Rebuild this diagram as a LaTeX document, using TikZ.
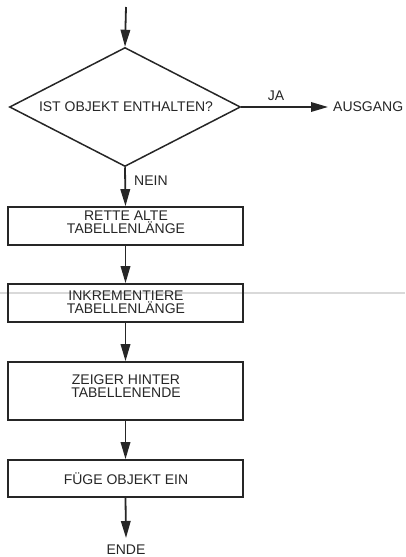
\documentclass[tikz,border=0pt]{standalone}
\usepackage{fontspec}
\setmainfont{Liberation Sans}
\usetikzlibrary{shapes.geometric,arrows.meta}
\begin{document}
\begin{tikzpicture}[x=1pt,y=1pt,
  every node/.style={font=\fontsize{14}{13.5}\selectfont, text=black!85},
  procbox/.style={draw=black!85, line width=1.7pt, minimum width=235pt, inner sep=0pt},
  flow/.style={draw=black!85, line width=1.8pt, -{Triangle[length=17pt,width=9.5pt]}},
  lbl/.style={inner sep=0pt, align=center}]
\useasboundingbox (0,0) rectangle (405,-557);
% scan artefact line
\draw[black!15, line width=1.2pt] (0,-293) -- (405,-293);
\coordinate (start) at (126,-7);
\node[diamond, draw=black!85, line width=1.5pt, minimum width=231pt, minimum height=119pt, inner sep=0pt] (dec) at (125,-107) {};
\node[lbl] (dectext) at (126,-107) {IST OBJEKT ENTHALTEN?};
\node[procbox, minimum height=38pt] (b1) at (125.5,-226) {};
\node[lbl] (t1) at (126,-222) {RETTE ALTE\\TABELLENLÄNGE};
\node[procbox, minimum height=38pt] (b2) at (125.5,-303) {};
\node[lbl] (t2) at (126,-302) {INKREMENTIERE\\TABELLENLÄNGE};
\node[procbox, minimum height=58pt] (b3) at (125.5,-391) {};
\node[lbl] (t3) at (126,-386) {ZEIGER HINTER\\TABELLENENDE};
\node[procbox, minimum height=37pt] (b4) at (125.5,-478.5) {};
\node[lbl] (t4) at (126,-478.5) {FÜGE OBJEKT EIN};
\node[anchor=west, inner sep=0pt] (aus) at (333,-107) {AUSGANG};
\node[inner sep=0pt] (ende) at (126,-550) {ENDE};
\node[lbl, anchor=south] (ja) at (276,-101) {JA};
\node[lbl, anchor=west] (nein) at (134,-181) {NEIN};
\draw[flow] (start) -- (dec.north);
\draw[flow] (dec.east) -- ([xshift=-5pt]aus.west);
\draw[flow] (dec.south) -- (b1.north);
\draw[flow] (b1.south) -- (b2.north);
\draw[flow] (b2.south) -- (b3.north);
\draw[flow] (b3.south) -- (b4.north);
\draw[flow] (b4.south) -- ([yshift=7pt]ende.north);
\end{tikzpicture}
\end{document}
